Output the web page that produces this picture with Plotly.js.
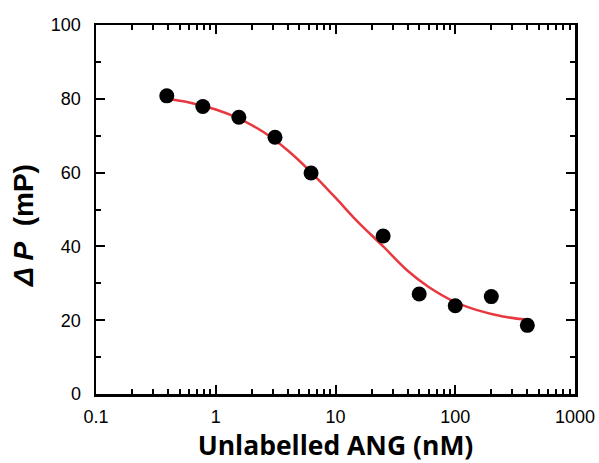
<!DOCTYPE html>
<html><head><meta charset="utf-8">
<script src="https://cdn.plot.ly/plotly-3.0.1.min.js"></script>
<style>html,body{margin:0;padding:0;background:#fff}</style>
</head><body>
<div id="chart" style="width:599px;height:463px"></div>
<script>
// measured points
const concNM = [0.39, 0.78, 1.56, 3.125, 6.25, 25, 50, 100, 200, 400];
const deltaP = [80.8, 77.9, 75.0, 69.6, 59.9, 42.8, 27.1, 23.9, 26.4, 18.6];
// fitted curve
const fitX = [0.39, 0.6, 1, 1.5, 2.5, 4, 6, 10, 15, 25, 40, 60, 100, 150, 250, 400];
const fitY = [80.0, 79.0, 77.1, 74.9, 71.0, 66.0, 60.7, 53.2, 47.0, 40.0, 33.4, 29.0, 24.9, 22.8, 21.0, 20.1];
const xTickVals = [0.1, 1, 10, 100, 1000];
const xTickText = ['0.1', '1', '10', '100', '1000'];

const fitTrace = {x: fitX, y: fitY, mode: 'lines', line: {color: '#e8383f', width: 2.5, shape: 'spline'}, hoverinfo: 'skip'};
const ptTrace = {x: concNM, y: deltaP, mode: 'markers', marker: {color: '#000', size: 15}};

const axisCommon = {
  showline: true, linecolor: '#000', linewidth: 2.5, mirror: 'allticks',
  ticks: 'inside', ticklen: 9, tickwidth: 2, tickcolor: '#000',
  showgrid: false, zeroline: false,
  tickfont: {family: 'Liberation Sans, Arial, sans-serif', size: 18, color: '#000'}
};

const NB = '\u00a0';
const layout = {
  width: 599, height: 463,
  margin: {l: 96, r: 24, t: 25, b: 69},
  paper_bgcolor: '#fff', plot_bgcolor: '#fff',
  showlegend: false,
  xaxis: Object.assign({}, axisCommon, {
    type: 'log', range: [-1, 3], tickvals: xTickVals, ticktext: xTickText,
    ticklabelstandoff: 5,
    minor: {ticks: 'inside', ticklen: 5, tickwidth: 2, tickcolor: '#000', dtick: 'D1', showgrid: false},
    title: {text: '<b>Unlabelled ANG (nM)</b>', standoff: 11,
      font: {family: 'Open Sans, Liberation Sans, sans-serif', size: 26.5, color: '#000'}}
  }),
  yaxis: Object.assign({}, axisCommon, {
    range: [0, 100], tickvals: [0, 20, 40, 60, 80, 100],
    ticklabelstandoff: 9,
    minor: {ticks: 'inside', ticklen: 5, tickwidth: 2, tickcolor: '#000', dtick: 10, showgrid: false},
    title: {text: '<b><i>Δ P</i>' + NB + NB + '(mP)' + NB + NB + NB + NB + '</b>', standoff: 9,
      font: {family: 'Liberation Sans, Arial, sans-serif', size: 28, color: '#000'}}
  })
};

Plotly.newPlot('chart', [fitTrace, ptTrace], layout, {displayModeBar: false, staticPlot: true});
</script>
</body></html>
